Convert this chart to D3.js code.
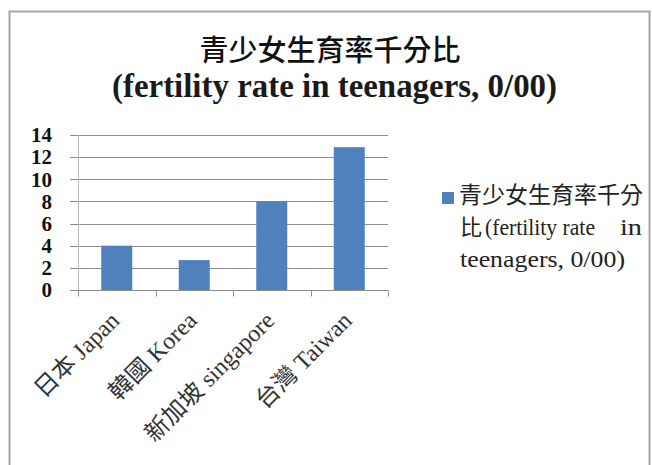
<!DOCTYPE html>
<html><head><meta charset="utf-8">
<script src="https://cdn.jsdelivr.net/npm/d3@7"></script>
<style>html,body{margin:0;padding:0;background:#fff;}svg{display:block;}</style>
</head><body>
<svg id="c" width="652" height="465"></svg>
<script>
const categories = ["日本 Japan", "韓國 Korea", "新加坡 singapore", "台灣 Taiwan"];
const values = [4.0, 2.7, 8.0, 12.9];
const yTicks = [0, 2, 4, 6, 8, 10, 12, 14];
const titleLines = ["青少女生育率千分比", "(fertility rate in teenagers, 0/00)"];
const legendLines = ["青少女生育率千分", "比", "(fertility rate", "in", "teenagers, 0/00)"];

const svg = d3.select("#c");
const serif = "'Liberation Serif', 'Noto Sans CJK TC', serif";
const cjk = "'Noto Sans CJK TC', 'Liberation Serif', sans-serif";
const L = 78, R = 388, T = 135, B = 290;

svg.append("defs").append("clipPath").attr("id", "clip")
  .append("rect").attr("x", 0).attr("y", 0).attr("width", 646).attr("height", 465);

// frame
svg.append("rect").attr("x", 9.5).attr("y", 11.5).attr("width", 640).attr("height", 470)
  .attr("fill", "#fff").attr("stroke", "#a6a6a6").attr("stroke-width", 2);

// title
svg.append("text").attr("x", 330).attr("y", 61).attr("text-anchor", "middle")
  .attr("font-family", cjk).attr("font-size", 29).attr("font-weight", 500).attr("fill", "#111")
  .text(titleLines[0]);
svg.append("text").attr("x", 334.5).attr("y", 97).attr("text-anchor", "middle")
  .attr("font-family", serif).attr("font-size", 33).attr("font-weight", "bold").attr("fill", "#1a1a1a")
  .attr("textLength", 445).attr("lengthAdjust", "spacingAndGlyphs")
  .text(titleLines[1]);

const x = d3.scaleBand().domain(categories).range([L, R]).paddingInner(0.6).paddingOuter(0.3);
const xb = d3.scaleBand().domain(categories).range([L, R]);
const y = d3.scaleLinear().domain([0, 14]).range([B, T]);

// gridlines
svg.append("g").selectAll("line").data(yTicks).join("line")
  .attr("x1", L - 8).attr("x2", R).attr("y1", d => Math.round(y(d)) + 0.5).attr("y2", d => Math.round(y(d)) + 0.5)
  .attr("stroke", "#8c8c8c").attr("stroke-width", 1);
// y axis line
svg.append("line").attr("x1", L + 0.5).attr("x2", L + 0.5).attr("y1", T).attr("y2", B)
  .attr("stroke", "#bdbdbd");

// bars
svg.append("g").selectAll("rect").data(values).join("rect")
  .attr("x", (d, i) => x(categories[i])).attr("width", x.bandwidth())
  .attr("y", d => y(d)).attr("height", d => B - y(d))
  .attr("fill", "#4f81bd");

// x axis
const xAxis = svg.append("g").attr("transform", `translate(0,${B + 0.5})`);
xAxis.append("line").attr("x1", L).attr("x2", R).attr("stroke", "#8c8c8c");
const bounds = categories.map(c => xb(c)).concat([R]);
xAxis.selectAll("line.tick").data(bounds).join("line").attr("class", "tick")
  .attr("x1", d => Math.round(d) + 0.5).attr("x2", d => Math.round(d) + 0.5)
  .attr("y1", 0).attr("y2", 6).attr("stroke", "#8c8c8c");

// y labels
svg.append("g").selectAll("text").data(yTicks).join("text")
  .attr("x", 52).attr("y", d => y(d)).attr("dy", "0.35em").attr("text-anchor", "end")
  .attr("font-family", serif).attr("font-size", 21).attr("font-weight", "bold").attr("fill", "#111")
  .text(d => d);

// x labels
svg.append("g").selectAll("text").data(categories).join("text")
  .attr("transform", c => `translate(${xb(c) + xb.bandwidth() / 2 + 4},322) rotate(-45)`)
  .attr("text-anchor", "end").attr("font-family", serif).attr("font-size", 24).attr("fill", "#333")
  .text(c => c);

// legend
const lg = svg.append("g").attr("clip-path", "url(#clip)");
lg.append("rect").attr("x", 442).attr("y", 192).attr("width", 12).attr("height", 12).attr("fill", "#4f81bd");
lg.append("text").attr("x", 459).attr("y", 203).attr("font-family", cjk).attr("font-size", 23).attr("fill", "#222")
  .text(legendLines[0]);
lg.append("text").attr("x", 460).attr("y", 235).attr("font-family", cjk).attr("font-size", 22).attr("fill", "#222")
  .text(legendLines[1]);
const l2 = lg.append("text").attr("y", 235).attr("font-family", serif).attr("font-size", 23).attr("fill", "#222");
l2.append("tspan").attr("x", 485).attr("textLength", 110).attr("lengthAdjust", "spacingAndGlyphs").text(legendLines[2]);
l2.append("tspan").attr("x", 620).attr("textLength", 22).attr("lengthAdjust", "spacingAndGlyphs").text(legendLines[3]);
lg.append("text").attr("x", 460).attr("y", 267).attr("font-family", serif).attr("font-size", 23).attr("fill", "#222")
  .attr("textLength", 165).attr("lengthAdjust", "spacingAndGlyphs")
  .text(legendLines[4]);
</script>
</body></html>
